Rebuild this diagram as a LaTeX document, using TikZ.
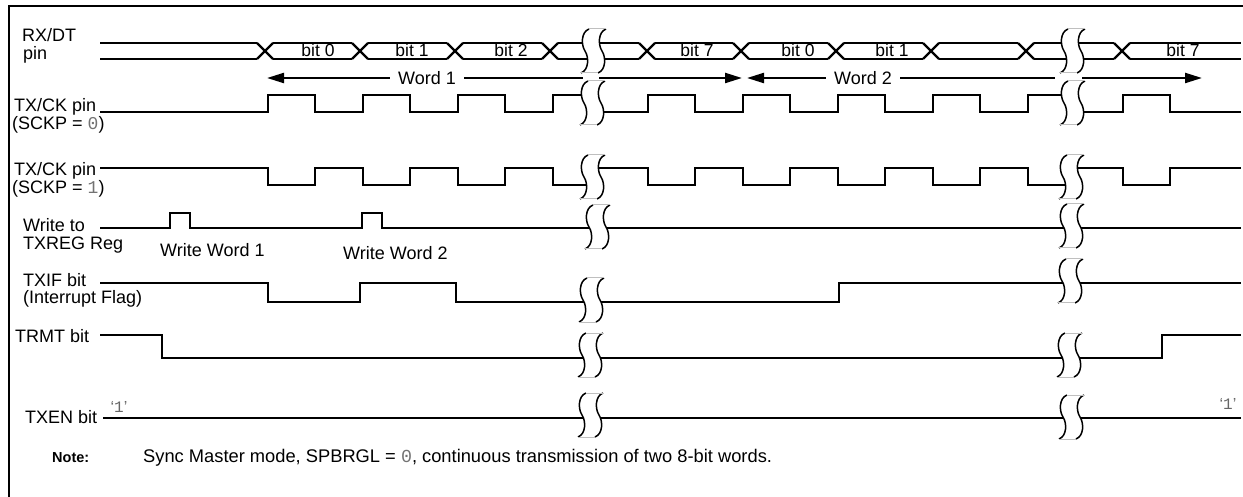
\documentclass[tikz,border=0pt]{standalone}
\usepackage{fontspec}
\setmainfont{Liberation Sans}
\newfontfamily\monofont{Liberation Mono}
\usetikzlibrary{arrows.meta}
\tikzstyle{sig} = [line width=2.4pt, line join=miter]
\tikzstyle{arrow} = [line width=2.2pt, -{Triangle[length=17pt,width=10pt]}]
\newcommand{\gzero}{\textcolor{black!55}{\monofont 0}}
\newcommand{\gone}{\textcolor{black!55}{\monofont 1}}
% break mark on a trace, centred at (#1,#2)
\newcommand{\cutmark}[2]{%
  \begin{scope}[shift={(#1,#2)}]
    \fill[white] (-5,-22) .. controls (-13,-19) and (-13,-6) .. (-9,0) .. controls (-5,6) and (-5,19) .. (-13,22)
      -- (4,22) .. controls (12,19) and (12,6) .. (8,0) .. controls (4,-6) and (4,-19) .. (12,-22) -- cycle;
    \draw[line width=1.5pt] (-5,-22) .. controls (-13,-19) and (-13,-6) .. (-9,0) .. controls (-5,6) and (-5,19) .. (-13,22);
    \draw[line width=1.5pt] (12,-22) .. controls (4,-19) and (4,-6) .. (8,0) .. controls (12,6) and (12,19) .. (4,22);
    \draw[black!25, line width=1pt] (-5,-22) -- (12,-22) (-13,22) -- (4,22);
  \end{scope}}

\begin{document}
\begin{tikzpicture}[x=1pt,y=-1pt]
  \tikzstyle{lbl} = [inner sep=0pt, font=\fontsize{18}{20}\selectfont]
  \tikzstyle{bitlbl} = [inner sep=0pt, anchor=base, font=\fontsize{17.5}{20}\selectfont]
  \tikzstyle{word} = [inner ysep=0pt, inner xsep=8pt, font=\fontsize{18}{20}\selectfont]
  \tikzstyle{enlbl} = [inner sep=0pt, font=\fontsize{16}{18}\selectfont\color{black!60}]
  \useasboundingbox (0,0) rectangle (1243,497);
  \fill[white] (0,0) rectangle (1243,497);
  \draw[line width=2pt] (9,497) -- (9,6) -- (1243,6);

  % signal names
  \node (rxdt) [lbl, anchor=base west] at (22,42) {RX/DT};
  \node (rxdtb) [lbl, anchor=base west] at (23,60) {pin};
  \node (ckA) [lbl, anchor=base west] at (14,112) {TX/CK pin};
  \node (ckAb) [lbl, anchor=base west] at (12,130) {(SCKP = \gzero)};
  \node (ckB) [lbl, anchor=base west] at (14,176) {TX/CK pin};
  \node (ckBb) [lbl, anchor=base west] at (12,194) {(SCKP = \gone)};
  \node (wr) [lbl, anchor=base west] at (23,232) {Write to};
  \node (wrb) [lbl, anchor=base west] at (23,250) {TXREG Reg};
  \node (txif) [lbl, anchor=base west] at (23,287) {TXIF bit};
  \node (txifb) [lbl, anchor=base west] at (23,304) {(Interrupt Flag)};
  \node (trmt) [lbl, anchor=base west] at (15,342) {TRMT bit};
  \node (txen) [lbl, anchor=base west] at (25,423) {TXEN bit};

  % RX/DT data bus
  \foreach \a/\b in {100/257,273/352,368/447,463/542,558/639,655/733,749/828,844/923,939/1018,1034/1114,1130/1241}
    {\draw[sig] (\a,43) -- (\b,43); \draw[sig] (\a,59) -- (\b,59);}
  \foreach \c in {265,360,455,550,647,741,836,931,1026,1122}
    {\draw[sig] (\c-8,43) -- (\c+8,59); \draw[sig] (\c-8,59) -- (\c+8,43);}
  \node (d0) [bitlbl] at (318,57) {bit 0};
  \node (d1) [bitlbl] at (412,57) {bit 1};
  \node (d2) [bitlbl] at (511,57) {bit 2};
  \node (d7) [bitlbl] at (697,57) {bit 7};
  \node (e0) [bitlbl] at (798,57) {bit 0};
  \node (e1) [bitlbl] at (892,57) {bit 1};
  \node (e7) [bitlbl] at (1183,57) {bit 7};

  % word spans
  \node (word1) [word] at (427,78) {Word 1};
  \node (word2) [word] at (863,78) {Word 2};
  \coordinate (w1s) at (267,78);
  \coordinate (w1g) at (583,78);
  \coordinate (w1h) at (599,78);
  \coordinate (w1e) at (742,78);
  \coordinate (w2s) at (747,78);
  \coordinate (w2g) at (1055,78);
  \coordinate (w2h) at (1082,78);
  \coordinate (w2e) at (1202,78);
  \draw[arrow] (word1.west) -- (w1s);
  \draw[sig] (word1.east) -- (w1g);
  \draw[arrow] (w1h) -- (w1e);
  \draw[arrow] (word2.west) -- (w2s);
  \draw[sig] (word2.east) -- (w2g);
  \draw[arrow] (w2h) -- (w2e);

  % clock, SCKP = 0
  \draw[sig] (100,112) \foreach \t in {268,363,458} {-- (\t,112) -- (\t,95) -- (\t+47,95) -- (\t+47,112)}
    -- (553,112) -- (553,95) -- (593,95) -- (593,112)
    \foreach \t in {648,743,838,933} {-- (\t,112) -- (\t,95) -- (\t+47,95) -- (\t+47,112)}
    -- (1028,112) -- (1028,95) -- (1073,95) -- (1073,112) -- (1123,112) -- (1123,95) -- (1170,95) -- (1170,112) -- (1241,112);
  % clock, SCKP = 1
  \draw[sig] (100,168) \foreach \t in {268,363,458} {-- (\t,168) -- (\t,185) -- (\t+47,185) -- (\t+47,168)}
    -- (553,168) -- (553,185) -- (593,185) -- (593,168)
    \foreach \t in {648,743,838,933} {-- (\t,168) -- (\t,185) -- (\t+47,185) -- (\t+47,168)}
    -- (1028,168) -- (1028,185) -- (1072,185) -- (1072,168) -- (1123,168) -- (1123,185) -- (1170,185) -- (1170,168) -- (1241,168);

  % write to TXREG
  \draw[sig] (100,228) -- (170,228) -- (170,213) -- (190,213) -- (190,228) -- (362,228) -- (362,213) -- (382,213) -- (382,228) -- (1241,228);
  \node (ww1) [lbl, anchor=base west] at (160,257) {Write Word 1};
  \node (ww2) [lbl, anchor=base west] at (343,260) {Write Word 2};

  % TXIF, TRMT, TXEN
  \draw[sig] (100,283) -- (268,283) -- (268,302) -- (360,302) -- (360,283) -- (456,283) -- (456,302) -- (839,302) -- (839,283) -- (1241,283);
  \draw[sig] (100,335) -- (162,335) -- (162,358) -- (1162,358) -- (1162,335) -- (1241,335);
  \draw[sig] (103,418) -- (1241,418);
  \node (en0) [enlbl] at (119,407) {‘{\monofont 1}’};
  \node (en1) [enlbl] at (1228,404) {‘{\monofont 1}’};

  % breaks
  \cutmark{594}{51}
  \cutmark{593}{103}
  \cutmark{593}{177}
  \cutmark{598}{227}
  \cutmark{592}{300}
  \cutmark{591}{355}
  \cutmark{591}{415}
  \cutmark{1073}{51}
  \cutmark{1073}{103}
  \cutmark{1072}{177}
  \cutmark{1072}{226}
  \cutmark{1071}{281}
  \cutmark{1070}{355}
  \cutmark{1072}{417}

  % note
  \node (note) [inner sep=0pt, anchor=base west, font=\fontsize{14.5}{16}\selectfont\bfseries] at (52,462) {Note:};
  \node (notetxt) [inner sep=0pt, anchor=base west, font=\fontsize{18.3}{20}\selectfont] at (143,462) {Sync Master mode, SPBRGL = \gzero, continuous transmission of two 8-bit words.};
\end{tikzpicture}
\end{document}
